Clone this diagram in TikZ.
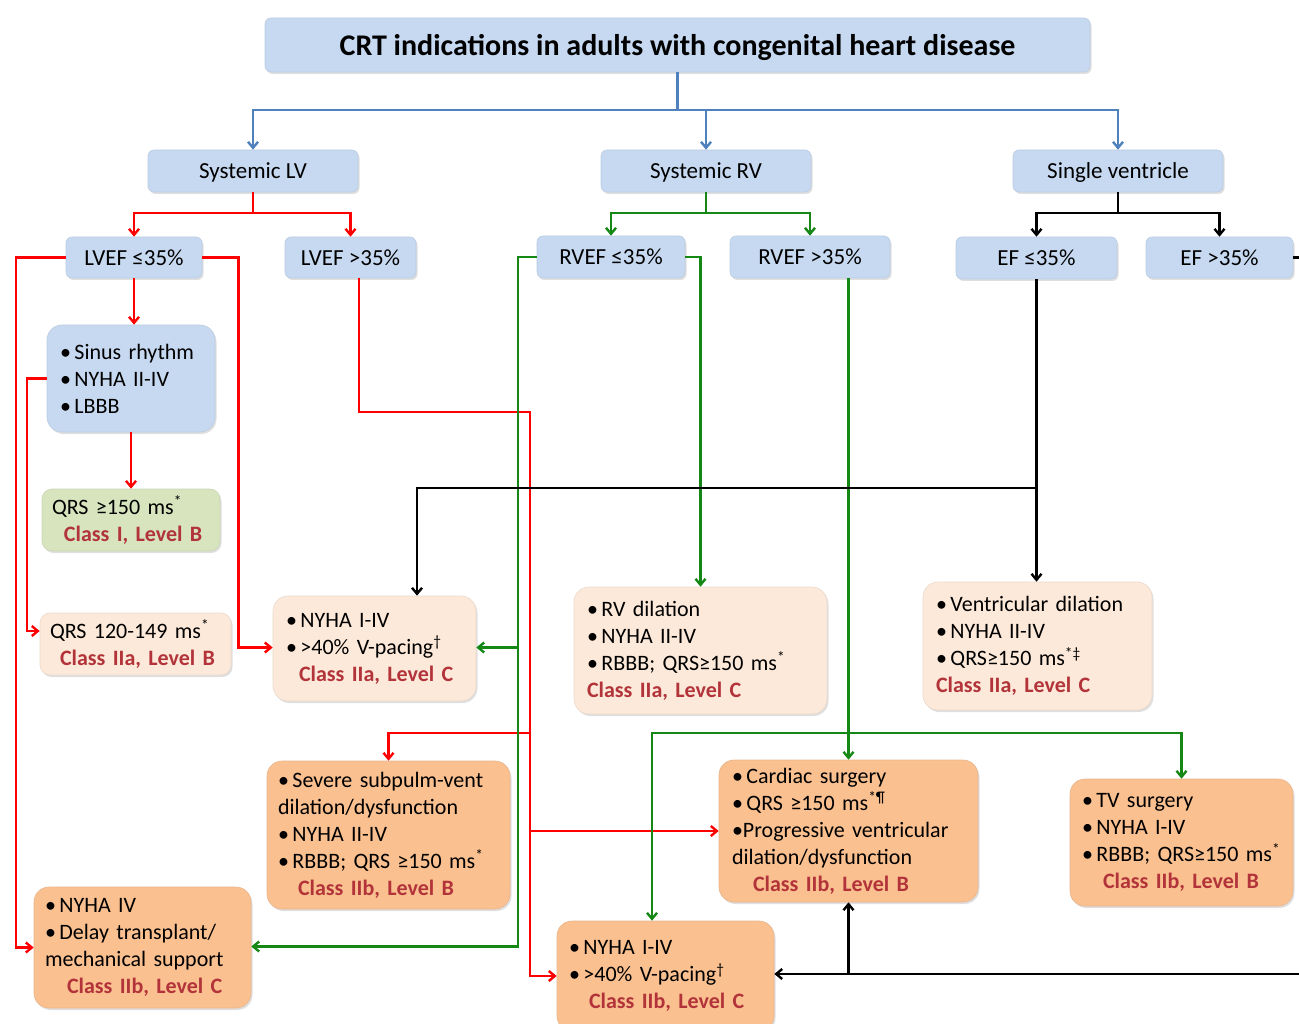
\documentclass[tikz,border=0pt]{standalone}
\usepackage{fontspec}
\setmainfont{Carlito}
\usetikzlibrary{arrows.meta,calc,shadows}
\definecolor{bxblue}{RGB}{198,217,241}
\definecolor{bxgreen}{RGB}{215,228,189}
\definecolor{bxpeach}{RGB}{253,233,217}
\definecolor{bxorange}{RGB}{250,192,144}
\definecolor{clsred}{RGB}{178,52,58}
\definecolor{lnblue}{RGB}{79,129,189}
\definecolor{lnred}{RGB}{255,0,0}
\definecolor{lngreen}{RGB}{20,135,20}
\newcommand\clsline[1]{{\bfseries\color{clsred}#1}}
\newcommand\bul{•\hspace{3.5pt}}
\begin{document}
\begin{tikzpicture}[x=1pt,y=-1pt,
  bx/.style={rounded corners=#1, inner sep=0pt,
    drop shadow={shadow xshift=1.5pt,shadow yshift=-2pt,opacity=0.25}},
  bx/.default=6pt,
  blu/.style={fill=bxblue, draw=bxblue!85!gray, line width=0.6pt},
  grn/.style={fill=bxgreen, draw=bxgreen!85!gray, line width=0.6pt},
  pch/.style={fill=bxpeach, draw=bxpeach!85!gray, line width=0.6pt},
  org/.style={fill=bxorange, draw=bxorange!85!gray, line width=0.6pt},
  txt/.style={font=\fontsize{22}{27}\selectfont},
  hd/.style={font=\fontsize{23}{27}\selectfont, text depth=0pt},
  ml/.style={align=left, text width=#1},
  arr/.style={-{Straight Barb[length=6pt,width=10pt]}},
  cb/.style={draw=lnblue, line width=2.4pt},
  cr/.style={draw=lnred, line width=2.4pt},
  cg/.style={draw=lngreen, line width=2.4pt},
  ck/.style={draw=black, line width=2.4pt}
]
\useasboundingbox (0,0) rectangle (1299,1024);
\clip (0,0) rectangle (1299,1024);

% top level
\node[bx, blu, minimum width=825pt, minimum height=54pt, text depth=0pt, font=\fontsize{30}{32}\selectfont\bfseries] (title) at (677.5,45) {CRT indications in adults with congenital heart disease};
\node[bx, blu, hd, minimum width=210pt, minimum height=42pt] (sLV) at (253,171) {Systemic LV};
\node[bx, blu, hd, minimum width=210pt, minimum height=42pt] (sRV) at (706,171) {Systemic RV};
\node[bx, blu, hd, minimum width=210pt, minimum height=42pt] (sSV) at (1118,171) {Single ventricle};

\node[bx, blu, hd, minimum width=136pt, minimum height=41pt] (lvle) at (134,257.5) {LVEF ≤35\%};
\node[bx, blu, hd, minimum width=131pt, minimum height=41pt] (lvgt) at (350.5,257.5) {LVEF >35\%};
\node[bx, blu, hd, minimum width=148pt, minimum height=42pt] (rvle) at (611,257) {RVEF ≤35\%};
\node[bx, blu, hd, minimum width=160pt, minimum height=42pt] (rvgt) at (810,257) {RVEF >35\%};
\node[bx, blu, hd, minimum width=161pt, minimum height=42pt] (efle) at (1036.5,258) {EF ≤35\%};
\node[bx, blu, hd, minimum width=147pt, minimum height=41pt] (efgt) at (1219.5,257.5) {EF >35\%};

% criteria boxes
\node[bx=15pt, blu, txt, ml=142pt, minimum width=168pt, minimum height=107pt] (sinus) at (131,378.5)
 {\bul Sinus rhythm\\ \bul NYHA II-IV\\ \bul LBBB};
\node[bx=10pt, grn, txt, ml=158pt, minimum width=178pt, minimum height=62pt] (qrs150) at (131,520)
 {QRS ≥150 ms\textsuperscript{*}\\ \hspace*{12pt}\clsline{Class I, Level B}};
\node[bx=10pt, pch, txt, ml=171pt, minimum width=191pt, minimum height=62pt] (qrs120) at (135.5,644)
 {\mbox{QRS 120-149 ms\textsuperscript{*}}\\ \hspace*{10pt}\clsline{Class IIa, Level B}};
\node[bx=15pt, pch, txt, ml=177pt, minimum width=203pt, minimum height=105pt] (pacA) at (374.5,648.5)
 {\bul NYHA I-IV\\ \bul >40\% V-pacing\textsuperscript{†}\\ \hspace*{13pt}\clsline{Class IIa, Level C}};
\node[bx=15pt, pch, txt, ml=227pt, minimum width=253pt, minimum height=127pt] (rvdil) at (700.5,650.5)
 {\bul RV dilation\\ \bul NYHA II-IV\\ \mbox{\bul RBBB; QRS≥150 ms\textsuperscript{*}}\\ \clsline{Class IIa, Level C}};
\node[bx=15pt, pch, txt, ml=203pt, minimum width=229pt, minimum height=128pt] (vdil) at (1037.5,646)
 {\mbox{\bul Ventricular dilation}\\ \bul NYHA II-IV\\ \bul QRS≥150 ms\textsuperscript{*‡}\\ \clsline{Class IIa, Level C}};
\node[bx=15pt, org, txt, ml=221pt, minimum width=243pt, minimum height=148pt] (severe) at (388.5,835)
 {\mbox{\bul Severe subpulm-vent}\\ dilation/dysfunction\\ \bul NYHA II-IV\\ \mbox{\bul RBBB; QRS ≥150 ms\textsuperscript{*}}\\ \hspace*{20pt}\clsline{Class IIb, Level B}};
\node[bx=15pt, org, txt, ml=195pt, minimum width=217pt, minimum height=121pt] (nyha4) at (142.5,947.5)
 {\bul NYHA IV\\ \mbox{\bul Delay transplant/}\\ \mbox{mechanical support}\\ \hspace*{22pt}\clsline{Class IIb, Level C}};
\node[bx=15pt, org, txt, ml=233pt, minimum width=259pt, minimum height=142pt] (cardiac) at (848.5,831)
 {\bul Cardiac surgery\\ \bul QRS ≥150 ms\textsuperscript{*¶}\\ \mbox{•Progressive ventricular}\\ dilation/dysfunction\\ \hspace*{21pt}\clsline{Class IIb, Level B}};
\node[bx=15pt, org, txt, ml=199pt, minimum width=223pt, minimum height=127pt] (tvs) at (1181.5,842.5)
 {\bul TV surgery\\ \bul NYHA I-IV\\ \mbox{\bul RBBB; QRS≥150 ms\textsuperscript{*}}\\ \hspace*{21pt}\clsline{Class IIb, Level B}};
\node[bx=15pt, org, txt, ml=193pt, minimum width=217pt, minimum height=110pt] (pacB) at (665.5,976)
 {\bul NYHA I-IV\\ \bul >40\% V-pacing\textsuperscript{†}\\ \hspace*{20pt}\clsline{Class IIb, Level C}};

% blue connectors
\coordinate (tj) at (677.5,110);
\draw[cb] (title.south) -- (tj);
\draw[cb,arr] (tj) -| (sLV.north);
\draw[cb,arr] (tj) -| (sRV.north);
\draw[cb,arr] (tj) -| (sSV.north);

% second level
\coordinate (lj) at (253,213);
\draw[cr] (sLV.south) -- (lj);
\draw[cr,arr] (lj) -| (lvle.north);
\draw[cr,arr] (lj) -| (lvgt.north);
\coordinate (rj) at (706,213);
\draw[cg] (sRV.south) -- (rj);
\draw[cg,arr] (rj) -| (rvle.north);
\draw[cg,arr] (rj) -| (rvgt.north);
\coordinate (sj) at (1118,213);
\draw[ck] (sSV.south) -- (sj);
\draw[ck,arr] (sj) -| (efle.north);
\draw[ck,arr] (sj) -| (efgt.north);

% LVEF <=35%
\draw[cr,arr] (lvle.west) -- ++(-50,0) |- (nyha4.west);
\draw[cr,arr] (lvle.east) -- ++(36,0) |- ($(pacA.west)+(0,-1)$);
\draw[cr,arr] (lvle.south) -- (lvle.south |- sinus.north);
\draw[cr,arr] (sinus.west) -- ++(-20,0) |- ($(qrs120.west)+(0,-13)$);
\draw[cr,arr] (sinus.south) -- (qrs150.north);

% LVEF >35%
\coordinate (la) at ($(lvgt.south)+(8.5,0)$);
\coordinate (lb) at (530,412);
\coordinate (lc) at (530,733);
\coordinate (ld) at (530,831);
\draw[cr,arr] (la) |- (lb) |- (pacB.west);
\draw[cr,arr] (lc) -| (severe.north);
\draw[cr,arr] (ld) -- (cardiac.west);

% RVEF <=35%
\coordinate (ga) at (518,647.5);
\draw[cg,arr] (rvle.west) -- ++(-19,0) |- ($(nyha4.east)+(0,-1)$);
\draw[cg,arr] (ga) -- (ga -| pacA.east);
\draw[cg,arr] (rvle.east) -| (rvdil.north);

% RVEF >35%
\coordinate (gb) at ($(rvgt.south)+(38.5,0)$);
\coordinate (gj) at (848.5,733);
\draw[cg,arr] (gb) -- (cardiac.north);
\draw[cg,arr] (gj) -| ($(pacB.north)+(-13.5,0)$);
\draw[cg,arr] (gj) -| (tvs.north);

% EF <=35%
\coordinate (kj) at (1036.5,488);
\draw[ck,arr] (efle.south) -- (efle.south |- vdil.north);
\draw[ck,arr] (kj) -| ($(pacA.north)+(42.5,0)$);

% EF >35%
\coordinate (ko) at (1340,257.5);
\coordinate (kb) at (cardiac.south |- pacB.east);
\draw[ck,arr] (efgt.east) -- (ko) |- ($(pacB.east)+(0,-2)$);
\draw[ck,arr] ($(kb)+(0,-2)$) -- (cardiac.south);
\end{tikzpicture}
\end{document}
